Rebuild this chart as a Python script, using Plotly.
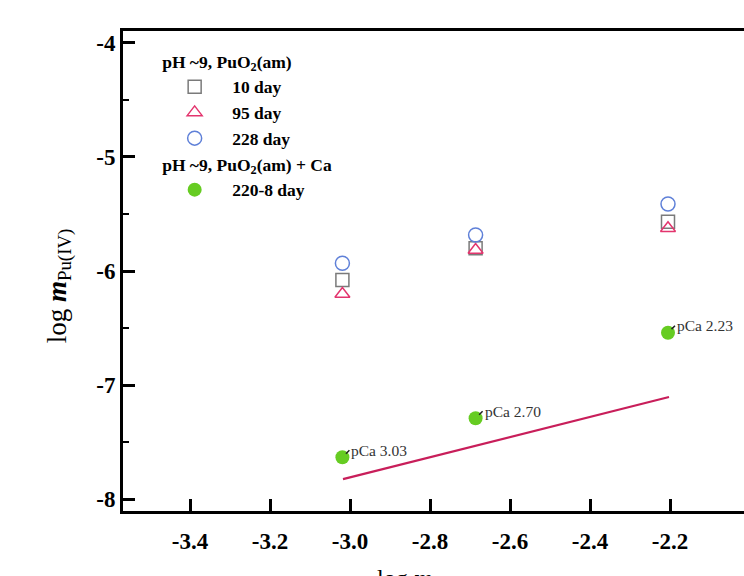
import plotly.graph_objects as go

# ---- data ----
x_vals = [-3.019, -2.686, -2.205]
day10 = [-6.079, -5.801, -5.568]
day95 = [-6.202, -5.816, -5.625]
day228 = [-5.932, -5.684, -5.412]
ca_vals = [-7.634, -7.292, -6.541]
ca_labels = ["pCa 3.03", "pCa 2.70", "pCa 2.23"]
line_x = [-3.0175, -2.2025]
line_y = [-7.825, -7.105]
x_ticks = [-3.4, -3.2, -3.0, -2.8, -2.6, -2.4, -2.2, -2.0]
y_ticks = [-8, -7, -6, -5, -4]

FONT = "Liberation Serif, Times New Roman, serif"

fig = go.Figure()

fig.add_trace(go.Scatter(
    x=line_x, y=line_y, mode="lines",
    line=dict(color="#c81e5a", width=2.2), showlegend=False, hoverinfo="skip"))

fig.add_trace(go.Scatter(
    x=x_vals, y=day10, mode="markers", name="10 day",
    legendgroup="g1", legendgrouptitle=dict(text="pH ~9, PuO<sub>2</sub>(am)"),
    marker=dict(symbol="square-open", size=13, color="#7a7a7a", line=dict(width=1.5))))
fig.add_trace(go.Scatter(
    x=x_vals, y=day95, mode="markers", name="95 day",
    legendgroup="g1",
    marker=dict(symbol="triangle-up-open", size=13, color="#e3356e", line=dict(width=1.5))))
fig.add_trace(go.Scatter(
    x=x_vals, y=day228, mode="markers", name="228 day",
    legendgroup="g1",
    marker=dict(symbol="circle-open", size=14, color="#5f80d8", line=dict(width=1.5))))
fig.add_trace(go.Scatter(
    x=x_vals, y=ca_vals, mode="markers", name="220-8 day",
    legendgroup="g2", legendgrouptitle=dict(text="pH ~9, PuO<sub>2</sub>(am) + Ca"),
    marker=dict(symbol="circle", size=14, color="#66cc22")))

for xv, yv, lab in zip(x_vals, ca_vals, ca_labels):
    fig.add_annotation(
        x=xv, y=yv, text=lab, showarrow=True, arrowhead=0, arrowwidth=1.5,
        arrowcolor="#222222", ax=7, ay=-7, xanchor="left", yanchor="middle",
        standoff=5, font=dict(family=FONT, size=15.5, color="#333333"))

# x-axis title (cut off at the bottom edge, as in the reference)
fig.add_annotation(
    x=0.47, y=0, xref="paper", yref="paper", yshift=-52, yanchor="top",
    text="log <i><b>m</b></i><sub>Ca</sub>", showarrow=False,
    font=dict(family=FONT, size=24, color="black"))

# y-axis title
fig.add_annotation(
    x=0, y=0.468, xref="paper", yref="paper", xshift=-64, xanchor="center",
    yanchor="middle", textangle=-90,
    text="log <i><b>m</b></i><sub>Pu(IV)</sub>", showarrow=False,
    font=dict(family=FONT, size=27, color="black"))

fig.update_layout(
    width=744, height=576,
    margin=dict(l=123, r=0, t=31, b=65),
    paper_bgcolor="white", plot_bgcolor="white",
    font=dict(family=FONT, color="black"),
    legend=dict(
        x=0.055, y=0.975, xanchor="left", yanchor="top",
        bgcolor="rgba(0,0,0,0)", borderwidth=0,
        font=dict(family=FONT, size=17.5, color="black", weight="bold"),
        grouptitlefont=dict(family=FONT, size=17.5, color="black", weight="bold"),
        tracegroupgap=0, itemwidth=65, groupclick="toggleitem"),
    xaxis=dict(
        range=[-3.5675, -2.015], tickvals=x_ticks,
        ticktext=[f"{v:.1f}" for v in x_ticks],
        showgrid=False, zeroline=False, showline=True, linecolor="black",
        linewidth=3, mirror=True, ticks="inside", ticklen=12, tickwidth=2.5,
        tickcolor="black", ticklabelstandoff=7,
        tickfont=dict(family=FONT, size=23, color="black", weight="bold")),
    yaxis=dict(
        range=[-8.105, -3.895], tickvals=y_ticks,
        ticktext=[str(v) for v in y_ticks],
        showgrid=False, zeroline=False, showline=True, linecolor="black",
        linewidth=3, ticks="inside", ticklen=12, tickwidth=2.5,
        tickcolor="black",
        minor=dict(dtick=0.5, ticks="inside", ticklen=6, tickwidth=2, tickcolor="black"),
        tickfont=dict(family=FONT, size=23, color="black", weight="bold")),
)

fig.write_html("out.html")
